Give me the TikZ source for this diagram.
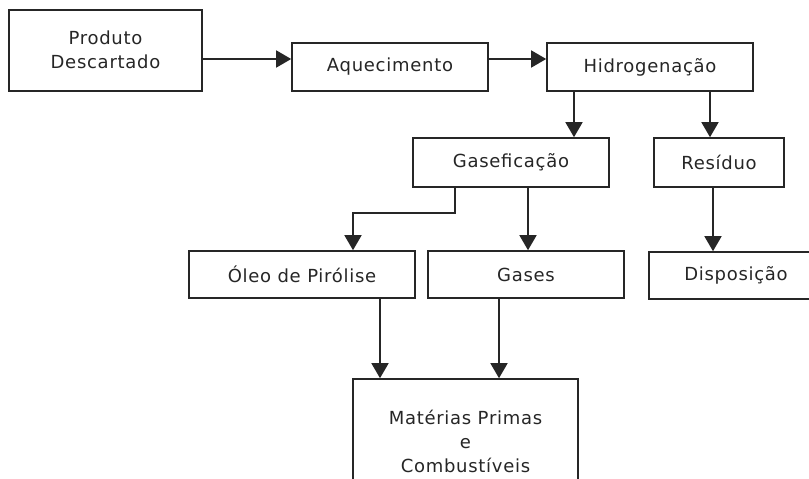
\documentclass[tikz,border=0pt]{standalone}
\usepackage{fontspec}
\setmainfont{DejaVu Sans}[LetterSpace=4]
\usetikzlibrary{arrows.meta}
\definecolor{ink}{HTML}{262626}
\tikzset{
  box/.style={draw=ink, line width=1.6pt, rectangle, inner sep=0pt, align=center,
    text=ink, font=\fontsize{18}{24}\selectfont},
  arr/.style={draw=ink, line width=1.6pt, -{Triangle[length=15pt,width=17pt]}},
}
\begin{document}
\begin{tikzpicture}[x=1pt,y=-1pt]
\useasboundingbox (0,0) rectangle (809,479);
\clip (0,0) rectangle (809,479);
\fill[white] (0,0) rectangle (809,479);
% boxes
\node[box, minimum width=193pt, minimum height=81pt, text depth=2pt] (prod) at (105.5,50.5) {Produto\\Descartado};
\node[box, minimum width=196pt, minimum height=48pt] (aq) at (390,67) {Aquecimento};
\node[box, minimum width=206pt, minimum height=48pt] (hid) at (650,67) {Hidrogenação};
\node[box, minimum width=196pt, minimum height=49pt] (gas) at (511,162.5) {Gaseficação};
\node[box, minimum width=130pt, minimum height=49pt] (res) at (719,162.5) {Resíduo};
\node[box, minimum width=226pt, minimum height=47pt] (oleo) at (302,274.5) {Óleo de Pirólise};
\node[box, minimum width=196pt, minimum height=47pt] (gases) at (526,274.5) {Gases};
\node[box, minimum width=174pt, minimum height=47pt] (disp) at (736,275.5) {Disposição};
\node[box, minimum width=225pt, minimum height=124pt] (mat) at (465.5,441) {Matérias Primas\\e\\Combustíveis};
% connectors
\draw[arr] (prod.east |- 0,59) -- (aq.west |- 0,59);
\draw[arr] (aq.east |- 0,59) -- (hid.west |- 0,59);
\draw[arr] (hid.south -| 574,0) -- (gas.north -| 574,0);
\draw[arr] (hid.south -| 710,0) -- (res.north -| 710,0);
\coordinate (g1) at (455,213);
\coordinate (g2) at (353,213);
\draw[arr] (gas.south -| g1) -- (g1) -- (g2) -- (oleo.north -| g2);
\draw[arr] (gas.south -| 528,0) -- (gases.north -| 528,0);
\draw[arr] (res.south -| 713,0) -- (disp.north -| 713,0);
\draw[arr] (oleo.south -| 380,0) -- (mat.north -| 380,0);
\draw[arr] (gases.south -| 499,0) -- (mat.north -| 499,0);
\end{tikzpicture}
\end{document}
